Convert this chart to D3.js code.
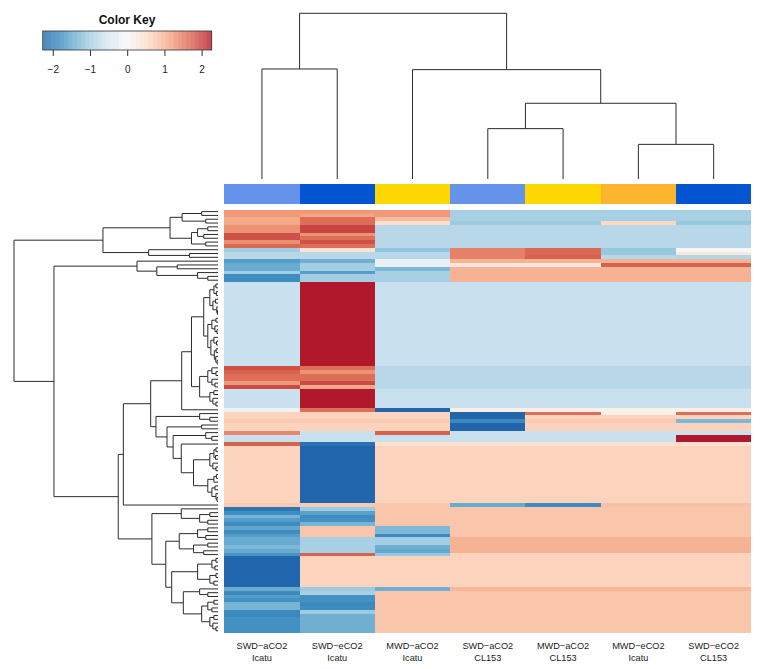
<!DOCTYPE html>
<html><head><meta charset="utf-8">
<script src="https://cdn.jsdelivr.net/npm/d3@7"></script>
<style>
body{margin:0;background:#fff}
svg{display:block;font-family:"Liberation Sans",Arial,Helvetica,sans-serif}
</style>
</head><body>
<svg id="chart" width="761" height="669"></svg>
<script>
// ---------- data ----------
const treatments = ["SWD−aCO2","SWD−eCO2","MWD−aCO2","SWD−aCO2","MWD−aCO2","MWD−eCO2","SWD−eCO2"];
const genotypes  = ["Icatu","Icatu","Icatu","CL153","CL153","Icatu","CL153"];
const keyTicks = [-2, -1, 0, 1, 2];

// z-scores per column, rows in dendrogram order (top to bottom)
const valSWDaIcatu = [
 1.25,1.25,1.1,1.1,1.3,1.3,1.85,1.85,1.35,1.65,
 -1.0,-0.8,-0.8,-1.6,-1.45,-1.45,-1.0,-1.8,-1.8,-0.65,
 -0.65,-0.65,-0.65,-0.65,-0.65,-0.65,-0.65,-0.65,-0.65,-0.65,
 -0.65,-0.65,-0.65,-0.65,-0.65,-0.65,-0.65,-0.65,-0.65,-0.65,
 -0.65,1.85,1.7,1.6,1.6,1.25,1.9,-0.65,-0.65,-0.65,
 -0.65,-0.65,-0.15,0.65,0.65,0.75,0.65,0.65,1.4,-0.65,
 -0.65,1.7,0.65,0.65,0.65,0.65,0.65,0.65,0.65,0.65,
 0.65,0.65,0.65,0.65,0.65,0.65,0.65,0.75,-2.1,-1.8,
 -1.35,-1.6,-1.8,-1.5,-1.8,-1.6,-1.45,-1.45,-1.3,-1.45,
 -1.7,-2.3,-2.3,-2.3,-2.3,-2.3,-2.3,-2.3,-2.3,-1.45,
 -1.85,-1.6,-1.75,-1.35,-1.35,-1.85,-1.85,-1.75,-1.75,-1.75,
 -1.75];
const valSWDeIcatu = [
 1.25,1.15,1.6,1.6,1.95,1.95,1.3,1.6,1.85,1.6,
 0.4,-0.8,-0.8,-1.4,-1.0,-1.0,-1.6,-1.0,-1.0,2.3,
 2.3,2.3,2.3,2.3,2.3,2.3,2.3,2.3,2.3,2.3,
 2.3,2.3,2.3,2.3,2.3,2.3,2.3,2.3,2.3,2.3,
 2.3,1.6,1.3,1.6,1.6,1.9,1.1,2.3,2.3,2.3,
 2.3,2.3,1.6,0.65,0.65,0.75,0.65,0.65,-0.65,-0.65,
 -0.65,-2.15,-2.3,-2.3,-2.3,-2.3,-2.3,-2.3,-2.3,-2.3,
 -2.3,-2.3,-2.3,-2.3,-2.3,-2.3,-2.3,0.75,-1.05,-1.55,
 -1.8,-1.75,-1.35,0.8,0.8,0.8,-0.95,-0.95,-0.95,-0.95,
 1.7,0.65,0.65,0.65,0.65,0.65,0.65,0.65,0.65,-1.05,
 -0.95,-1.75,-1.75,-1.85,-1.8,-1.05,-1.4,-1.4,-1.4,-1.4,
 -1.4];
const valMWDaIcatu = [
 1.25,1.25,0.9,0.5,-0.8,-0.8,-0.8,-0.8,-0.8,-0.8,
 -1.15,-0.8,-0.8,-0.2,-0.2,-1.3,-0.95,-0.95,-0.95,-0.65,
 -0.65,-0.65,-0.65,-0.65,-0.65,-0.65,-0.65,-0.65,-0.65,-0.65,
 -0.65,-0.65,-0.65,-0.65,-0.65,-0.65,-0.65,-0.65,-0.65,-0.65,
 -0.65,-0.8,-0.8,-0.8,-0.8,-0.8,-0.8,-0.65,-0.65,-0.65,
 -0.65,-0.65,-2.3,0.65,0.65,0.75,0.65,0.65,1.7,-0.65,
 -0.65,0.45,0.65,0.65,0.65,0.65,0.65,0.65,0.65,0.65,
 0.65,0.65,0.65,0.65,0.65,0.65,0.65,0.8,0.8,0.8,
 0.8,0.8,0.8,-1.3,-1.3,-1.85,-1.0,-1.0,-1.4,-1.5,
 -1.1,0.65,0.65,0.65,0.65,0.65,0.65,0.65,0.65,-1.4,
 0.8,0.8,0.8,0.8,0.8,0.8,0.8,0.8,0.8,0.8,
 0.8];
const valSWDaCL153 = [
 -0.95,-0.95,-0.95,-1.05,-0.8,-0.8,-0.8,-0.8,-0.8,-0.8,
 1.45,1.45,1.45,1.0,0.3,1.0,1.0,1.0,1.0,-0.65,
 -0.65,-0.65,-0.65,-0.65,-0.65,-0.65,-0.65,-0.65,-0.65,-0.65,
 -0.65,-0.65,-0.65,-0.65,-0.65,-0.65,-0.65,-0.65,-0.65,-0.65,
 -0.65,-0.8,-0.8,-0.8,-0.8,-0.8,-0.8,-0.65,-0.65,-0.65,
 -0.65,-0.65,0.15,-2.3,-2.3,-1.85,-2.3,-2.3,-0.65,-0.65,
 -0.65,0.45,0.65,0.65,0.65,0.65,0.65,0.65,0.65,0.65,
 0.65,0.65,0.65,0.65,0.65,0.65,0.65,-1.45,0.8,0.8,
 0.8,0.8,0.8,0.8,0.8,0.8,1.0,1.0,1.0,1.0,
 0.65,0.65,0.65,0.65,0.65,0.65,0.65,0.65,0.65,0.95,
 0.8,0.8,0.8,0.8,0.8,0.8,0.8,0.8,0.8,0.8,
 0.8];
const valMWDaCL153 = [
 -0.95,-0.95,-0.95,-1.05,-0.8,-0.8,-0.8,-0.8,-0.8,-0.8,
 1.65,1.65,1.7,1.0,0.3,1.0,1.0,1.0,1.0,-0.65,
 -0.65,-0.65,-0.65,-0.65,-0.65,-0.65,-0.65,-0.65,-0.65,-0.65,
 -0.65,-0.65,-0.65,-0.65,-0.65,-0.65,-0.65,-0.65,-0.65,-0.65,
 -0.65,-0.8,-0.8,-0.8,-0.8,-0.8,-0.8,-0.65,-0.65,-0.65,
 -0.65,-0.65,0.15,1.6,0.65,0.75,0.65,0.65,-0.65,-0.65,
 -0.65,0.45,0.65,0.65,0.65,0.65,0.65,0.65,0.65,0.65,
 0.65,0.65,0.65,0.65,0.65,0.65,0.65,-1.8,0.8,0.8,
 0.8,0.8,0.8,0.8,0.8,0.8,1.0,1.0,1.0,1.0,
 0.65,0.65,0.65,0.65,0.65,0.65,0.65,0.65,0.65,0.95,
 0.8,0.8,0.8,0.8,0.8,0.8,0.8,0.8,0.8,0.8,
 0.8];
const valMWDeIcatu = [
 -0.95,-0.95,-0.95,0.6,-0.8,-0.8,-0.8,-0.8,-0.8,-0.8,
 -1.1,-1.1,-0.8,1.0,1.7,1.0,1.0,1.0,1.0,-0.65,
 -0.65,-0.65,-0.65,-0.65,-0.65,-0.65,-0.65,-0.65,-0.65,-0.65,
 -0.65,-0.65,-0.65,-0.65,-0.65,-0.65,-0.65,-0.65,-0.65,-0.65,
 -0.65,-0.8,-0.8,-0.8,-0.8,-0.8,-0.8,-0.65,-0.65,-0.65,
 -0.65,-0.65,0.15,0.15,0.65,0.75,0.65,0.65,-0.65,-0.65,
 -0.65,0.45,0.65,0.65,0.65,0.65,0.65,0.65,0.65,0.65,
 0.65,0.65,0.65,0.65,0.65,0.65,0.65,0.85,0.8,0.8,
 0.8,0.8,0.8,0.8,0.8,0.8,1.0,1.0,1.0,1.0,
 0.65,0.65,0.65,0.65,0.65,0.65,0.65,0.65,0.65,0.95,
 0.8,0.8,0.8,0.8,0.8,0.8,0.8,0.8,0.8,0.8,
 0.8];
const valSWDeCL153 = [
 -0.95,-0.95,-0.95,-1.1,-0.8,-0.8,-0.8,-0.8,-0.8,-0.8,
 0.0,0.3,-0.85,1.0,1.7,1.0,1.0,1.0,1.0,-0.65,
 -0.65,-0.65,-0.65,-0.65,-0.65,-0.65,-0.65,-0.65,-0.65,-0.65,
 -0.65,-0.65,-0.65,-0.65,-0.65,-0.65,-0.65,-0.65,-0.65,-0.65,
 -0.65,-0.8,-0.8,-0.8,-0.8,-0.8,-0.8,-0.65,-0.65,-0.65,
 -0.65,-0.65,0.15,1.6,0.65,-1.3,0.65,0.65,-0.65,2.3,
 2.3,0.45,0.65,0.65,0.65,0.65,0.65,0.65,0.65,0.65,
 0.65,0.65,0.65,0.65,0.65,0.65,0.65,0.85,0.8,0.8,
 0.8,0.8,0.8,0.8,0.8,0.8,1.0,1.0,1.0,1.0,
 0.65,0.65,0.65,0.65,0.65,0.65,0.65,0.65,0.65,0.95,
 0.8,0.8,0.8,0.8,0.8,0.8,0.8,0.8,0.8,0.8,
 0.8];

// column dendrogram: [height, left, right]; leaves = column index
const colTree = [10, [6.64, 0, 1], [6.6, 2, [4.57, [3.04, 3, 4], [2.09, 5, 6]]]];

// row dendrogram: [height, left, right]; leaves = row index
const rowTree = [100,
  [56.4,
    [23.5, [17.6, [8, 0, 1], [6, 2, 3]], [13, [10, [5, 4, 5], [7, 6, 7]], [6, 8, 9]]],
    [34, 10, [14, 11, 12]]],
  [80.4,
    [39.7, 13, [30, [20, 14, 15], [10, 16, [5, 17, 18]]]],
    [48.9,
      [46.4,
        [33,
          [17.8,
            [13,
              [7, [4, [2, [1, 19, 20], [0.8, 21, 22]], [2.5, [1.2, 23, 24], [0.6, 25, [0.3, 26, 27]]]],
                  [5, [3, [1, 28, 29], [1.5, 30, [0.5, 31, 32]]], [3.5, [2, 33, [0.7, 34, 35]], [1.8, [0.9, 36, 37], [1.1, 38, [0.4, 39, 40]]]]]],
              [9, [5, [3, 41, [1, 42, 43]], [3, 44, [1.5, 45, 46]]], [4, [2, 47, 48], [2.5, 49, [1, 50, 51]]]]],
            52],
          [30.4, [9, 53, [4, 54, 55]],
            [25, [8, 56, 57],
              [22, [6, 58, [3, 59, 60]],
                [18, 61, [12, [4, [2, [1, 62, 63], [1.2, 64, 65]], [2.5, 66, [1, 67, 68]]],
                             [5, [2, [0.8, 69, 70], 71], [3, [1.5, 72, 73], [1, 74, [0.5, 75, 76]]]]]]]]]],
        77],
      [32.4,
        [18, 78, [9, [4, 79, 80], [5, 81, 82]]],
        [25.6,
          [19, [10, [5, 83, 84], [6, 85, 86]], [12, [5, 87, 88], [7, 89, 90]]],
          [22.7,
            [10, [3, [1, 91, 92], [1.5, 93, 94]], [4, [1, 95, 96], [2, 97, 98]]],
            [17, [9, 99, [5, 100, 101]], [8, [5, [2, 102, 103], [3, 104, 105]], [4, [2, 106, 107], [2.5, 108, [1, 109, 110]]]]]]]]]]];

// ---------- styling ----------
const groupColor = {"SWD−aCO2":"#6592EA","SWD−eCO2":"#0455D1","MWD−aCO2":"#FFD700","MWD−eCO2":"#FDB530"};
const rdbu = ["#2166ac","#4393c3","#92c5de","#d1e5f0","#f7f7f7","#fddbc7","#f4a582","#d6604d","#b2182b"];

const columns = [valSWDaIcatu, valSWDeIcatu, valMWDaIcatu, valSWDaCL153, valMWDaCL153, valMWDeIcatu, valSWDeCL153];
const nRows = valSWDaIcatu.length;

const svg = d3.select("#chart");

const color = d3.scaleLinear()
  .domain(d3.range(rdbu.length).map(i => -2.3 + i * 4.6 / (rdbu.length - 1)))
  .range(rdbu).clamp(true);

const x = d3.scaleBand().domain(d3.range(columns.length)).range([224.3, 751.3]).padding(0);
const y = d3.scaleBand().domain(d3.range(nRows)).range([209.7, 632.7]).padding(0);

// pixel-snapped edges (avoid anti-aliasing seams between cells)
const xs = j => Math.round(x(j)), xe = j => Math.round(x(j) + x.bandwidth());
const ys = i => Math.round(y(i)), ye = i => Math.round(y(i) + y.bandwidth());

// heatmap cells
const cells = [];
columns.forEach((col, j) => col.forEach((v, i) => cells.push({i, j, v})));
svg.append("g").attr("shape-rendering", "crispEdges")
  .selectAll("rect").data(cells).join("rect")
  .attr("x", d => xs(d.j))
  .attr("y", d => ys(d.i))
  .attr("width", d => xe(d.j) - xs(d.j))
  .attr("height", d => ye(d.i) - ys(d.i))
  .attr("fill", d => color(d.v));

// column side colour bar
svg.append("g").attr("shape-rendering", "crispEdges")
  .selectAll("rect").data(treatments).join("rect")
  .attr("x", (d, j) => xs(j))
  .attr("y", 184)
  .attr("width", (d, j) => xe(j) - xs(j))
  .attr("height", 20)
  .attr("fill", d => groupColor[d]);

// column labels
const lab = svg.append("g").attr("font-size", 9.2).attr("fill", "#1a1a1a").attr("text-anchor", "middle");
treatments.forEach((t, j) => {
  lab.append("text").attr("x", x(j) + x.bandwidth() / 2).attr("y", 649).text(t);
  lab.append("text").attr("x", x(j) + x.bandwidth() / 2).attr("y", 660.5).text(genotypes[j]);
});

// dendrogram helpers
function layout(node, leafPos) {
  if (typeof node === "number") return {pos: leafPos(node), h: 0};
  const a = layout(node[1], leafPos), b = layout(node[2], leafPos);
  return {pos: (a.pos + b.pos) / 2, h: node[0], kids: [a, b]};
}
function drawTree(root, hScale, horizontal) {
  const p = d3.path();
  (function walk(n) {
    if (!n.kids) return;
    const [a, b] = n.kids;
    const hv = hScale(n.h);
    if (horizontal) {
      p.moveTo(hScale(a.h), a.pos); p.lineTo(hv, a.pos); p.lineTo(hv, b.pos); p.lineTo(hScale(b.h), b.pos);
    } else {
      p.moveTo(a.pos, hScale(a.h)); p.lineTo(a.pos, hv); p.lineTo(b.pos, hv); p.lineTo(b.pos, hScale(b.h));
    }
    walk(a); walk(b);
  })(root);
  return p.toString();
}

// row dendrogram
const rowH = d3.scaleLinear().domain([0, 100]).range([218, 14]);
const rowRoot = layout(rowTree, i => y(i) + y.bandwidth() / 2);
svg.append("path").attr("d", drawTree(rowRoot, rowH, true))
  .attr("fill", "none").attr("stroke", "#2b2b2b").attr("stroke-width", 1);

// column dendrogram
const colH = d3.scaleLinear().domain([0, 10]).range([179, 13.3]);
const colRoot = layout(colTree, j => x(j) + x.bandwidth() / 2);
svg.append("path").attr("d", drawTree(colRoot, colH, false))
  .attr("fill", "none").attr("stroke", "#2b2b2b").attr("stroke-width", 1);

// colour key
const keyX = d3.scaleLinear().domain([-2.27, 2.27]).range([42.7, 211.7]);
const nBins = 40;
const binIdx = d3.range(nBins);
const edge = k => -2.27 + k * 4.54 / nBins;
const key = svg.append("g");
key.append("g").attr("shape-rendering", "crispEdges")
  .selectAll("rect").data(binIdx).join("rect")
  .attr("x", k => Math.round(keyX(edge(k))))
  .attr("y", 31)
  .attr("width", k => Math.round(keyX(edge(k + 1))) - Math.round(keyX(edge(k))))
  .attr("height", 19)
  .attr("fill", k => color((edge(k) + edge(k + 1)) / 2)).attr("fill-opacity", 0.8);
key.append("rect").attr("x", keyX(-2.27)).attr("y", 31)
  .attr("width", keyX(2.27) - keyX(-2.27)).attr("height", 19)
  .attr("fill", "none").attr("stroke", "#333").attr("stroke-width", 0.8);
const axis = d3.axisBottom(keyX).tickValues(keyTicks).tickSize(6).tickPadding(10)
  .tickFormat(d => d < 0 ? "−" + Math.abs(d) : String(d));
const ag = key.append("g").attr("transform", "translate(0,50)").call(axis);
ag.select(".domain").remove();
ag.selectAll("line").attr("stroke", "#333");
ag.selectAll("text").attr("font-size", 10).attr("fill", "#222")
  .attr("font-family", "'Liberation Sans',Arial,sans-serif");
svg.append("text").attr("x", 127).attr("y", 24).attr("text-anchor", "middle")
  .attr("font-size", 12).attr("font-weight", "bold").attr("fill", "#111").text("Color Key");
</script>
</body></html>
